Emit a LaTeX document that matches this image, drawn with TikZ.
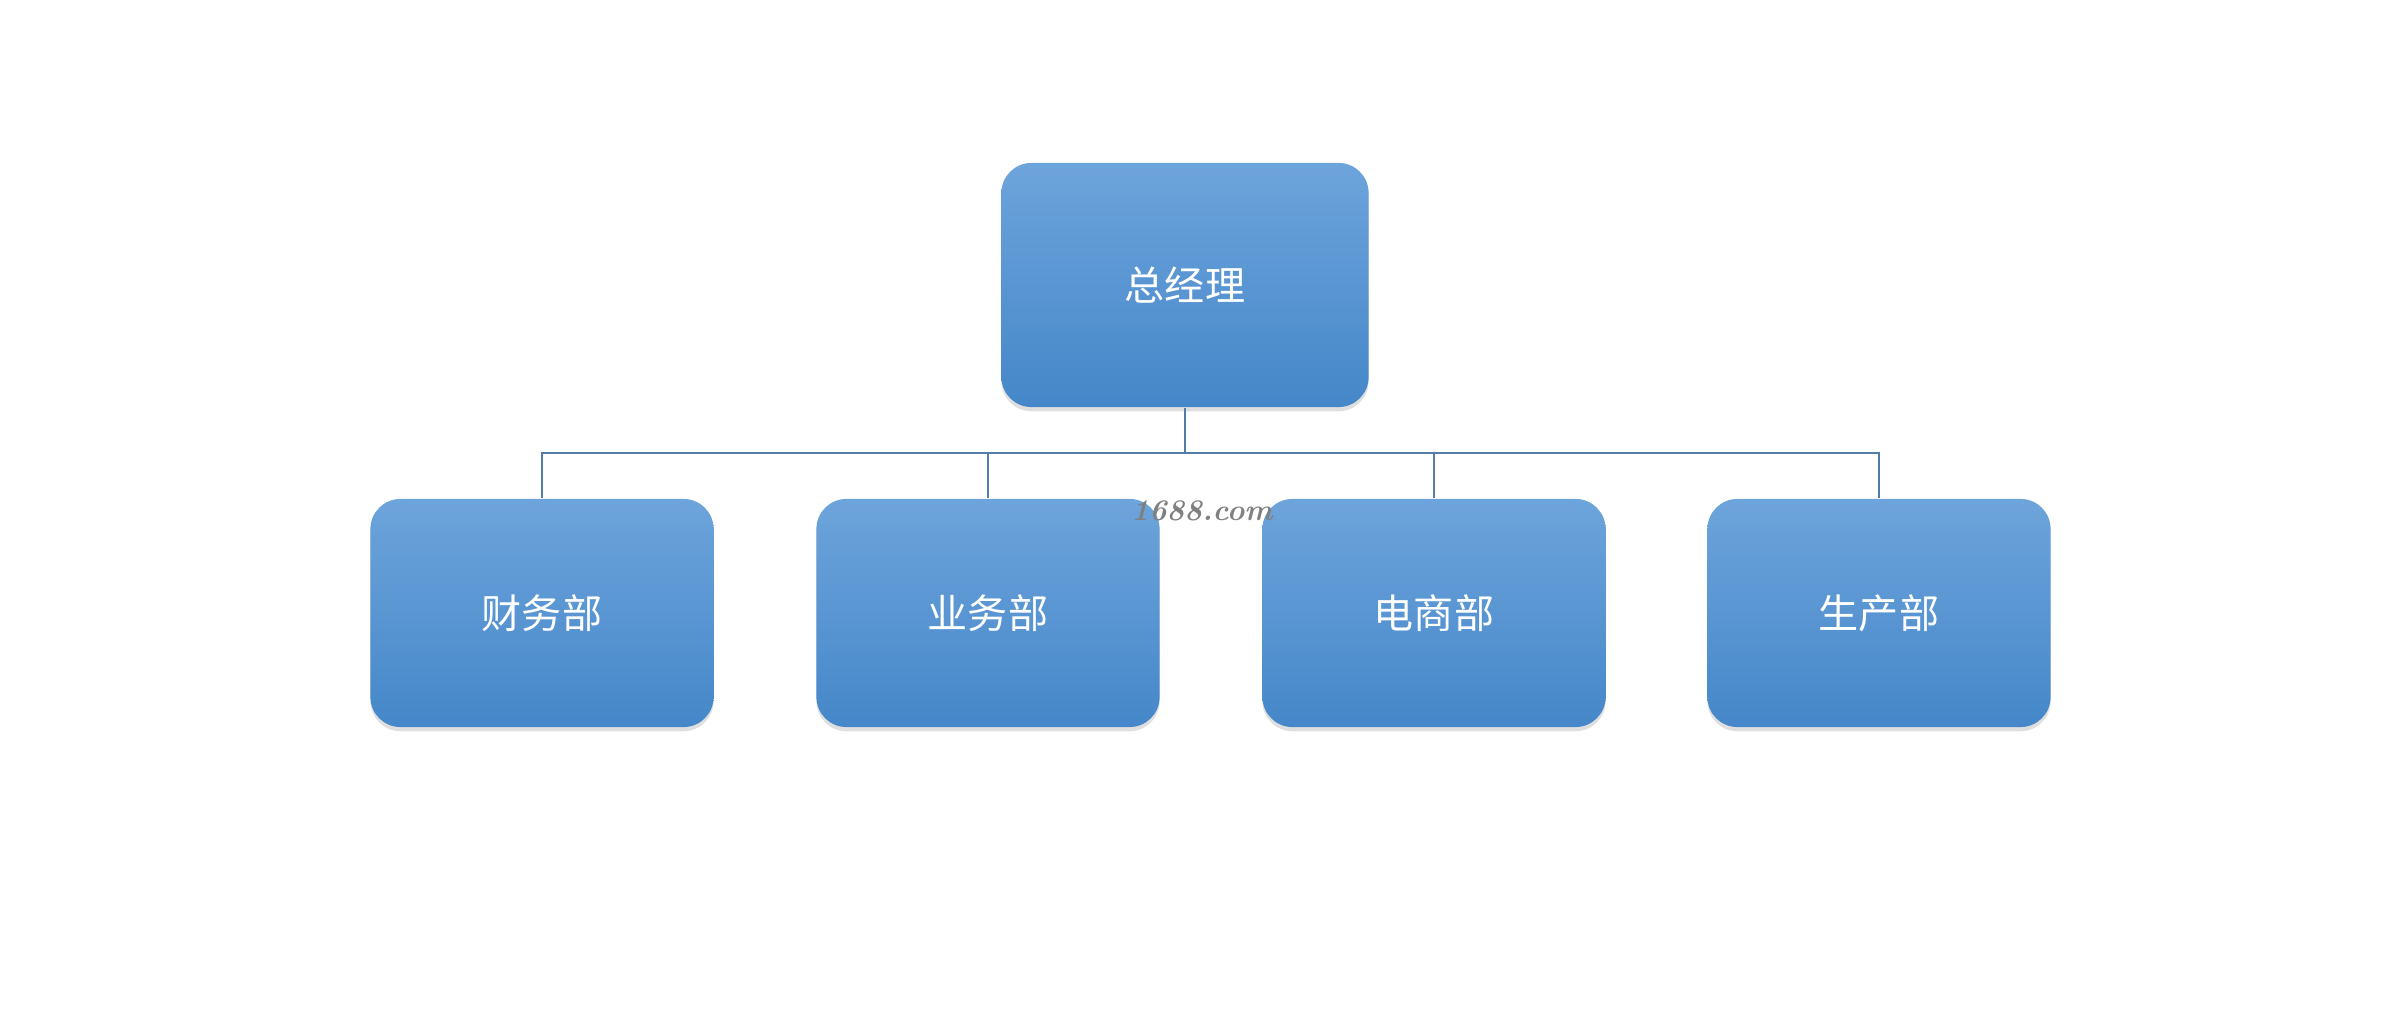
\documentclass[tikz,border=0pt]{standalone}
\usepackage{fontspec}
\newfontfamily\cjk{Noto Sans CJK SC}
\usepackage{tikz}
\usetikzlibrary{shadows}
\definecolor{boxtop}{RGB}{109,164,219}
\definecolor{boxbot}{RGB}{69,135,201}
\definecolor{linkblue}{RGB}{84,124,168}

\begin{document}
\begin{tikzpicture}[x=0.01cm,y=-0.01cm,
	unit/.style={rounded corners=0.3cm,top color=boxtop,bottom color=boxbot,
		draw=none,text=white,font=\cjk\fontsize{11.4}{14}\selectfont,
		drop shadow={opacity=0.25,shadow xshift=0pt,shadow yshift=-1.2pt}},
	boss/.style={unit,minimum width=3.67cm,minimum height=2.44cm},
	dept/.style={unit,minimum width=3.43cm,minimum height=2.28cm},
	link/.style={draw=linkblue,line width=0.6pt}]
	\useasboundingbox (0,0) rectangle (2405,1019);
	\node[boss] (gm) at (1185,285) {总经理};
	\node[dept] (fin) at (542,613) {财务部};
	\node[dept] (biz) at (988,613) {业务部};
	\node[dept] (ecom) at (1434,613) {电商部};
	\node[dept] (prod) at (1879,613) {生产部};
	\coordinate (bus) at (1185,453);
	\draw[link] (gm.south) -- (gm.south |- bus);
	\draw[link] (fin.north) -- (fin.north |- bus) -- (prod.north |- bus) -- (prod.north);
	\draw[link] (biz.north) -- (biz.north |- bus);
	\draw[link] (ecom.north) -- (ecom.north |- bus);
	\node[text=gray,font=\fontsize{8.5}{10}\selectfont\bfseries\itshape] (mark) at (1202,511) {1688.com};
\end{tikzpicture}
\end{document}
